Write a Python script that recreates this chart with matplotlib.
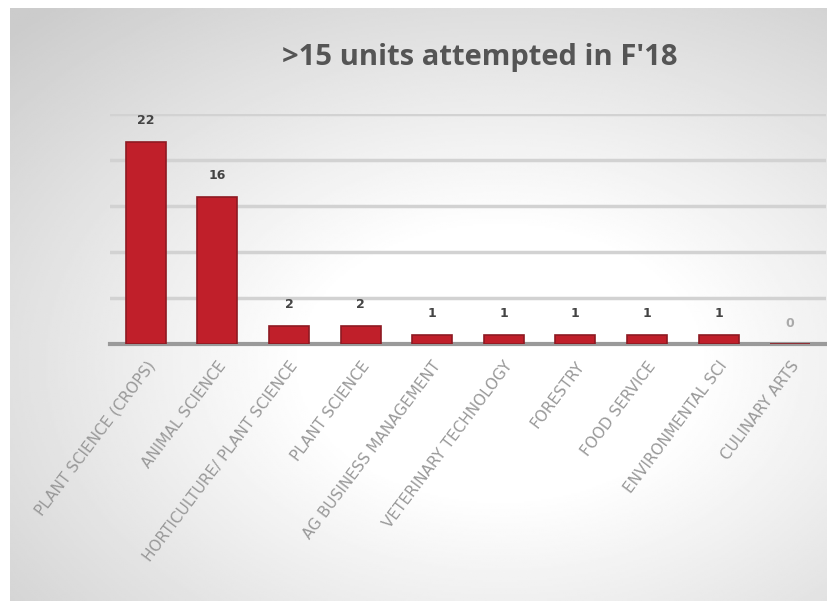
import numpy as np
import matplotlib.pyplot as plt


categories = [
    "PLANT SCIENCE (CROPS)",
    "ANIMAL SCIENCE",
    "HORTICULTURE/ PLANT SCIENCE",
    "PLANT SCIENCE",
    "AG BUSINESS MANAGEMENT",
    "VETERINARY TECHNOLOGY",
    "FORESTRY",
    "FOOD SERVICE",
    "ENVIRONMENTAL SCI",
    "CULINARY ARTS",
]
students = [22, 16, 2, 2, 1, 1, 1, 1, 1, 0]
y_ticks = [0, 5, 10, 15, 20, 25]

title = ">15 units attempted in F'18"

fig = plt.figure(figsize=(8.28, 6.01), dpi=100)
fig.patch.set_facecolor("white")

# soft radial grey background like the slide
bg = fig.add_axes([10 / 828, 0, 1 - 10 / 828, 593 / 601], zorder=0)
yy, xx = np.mgrid[0:1:300j, 0:1:400j]
dist = np.sqrt(((xx - 0.6) / 0.9) ** 2 + ((yy - 0.6) / 0.85) ** 2)
shade = np.clip(1.08 - 0.3 * dist, 0.8, 1.0)
bg.imshow(shade, cmap="gray", vmin=0, vmax=1, aspect="auto",
          extent=[0, 1, 0, 1], origin="upper")
bg.axis("off")

ax = fig.add_axes([110 / 828, 257 / 601, 716 / 828, 230 / 601], zorder=1)
ax.patch.set_alpha(0)

x = np.arange(len(categories))
ax.bar(x, students, width=0.56, color="#c01f2a",
       edgecolor="#8e1a22", linewidth=1.2, zorder=3)

for xi, v in zip(x, students):
    ax.annotate(
        str(v),
        (xi, v),
        xytext=(0, 15),
        textcoords="offset points",
        ha="center",
        va="center",
        fontsize=9,
        fontweight="bold",
        color="#444444" if v > 0 else "#aaaaaa",
    )

ax.set_xlim(-0.5, len(categories) - 0.5)
ax.set_ylim(0, 25)
ax.set_yticks(y_ticks)
ax.yaxis.grid(True, color="#d2d2d2", linewidth=2.5, zorder=0)
ax.tick_params(axis="y", left=False, labelleft=False)
ax.tick_params(axis="x", bottom=False, pad=7)

for side in ["top", "right", "left"]:
    ax.spines[side].set_visible(False)
ax.spines["bottom"].set_color("#9a9a9a")
ax.spines["bottom"].set_linewidth(3)

ax.set_xticks(x)
ax.set_xticklabels(categories, rotation=53, ha="right",
                   rotation_mode="anchor", fontsize=11, color="#999999")

fig.text(0.58, 0.905, title, ha="center", va="center",
         fontsize=21, fontweight="bold", color="#555555",
         family="Open Sans")

plt.savefig("out.png", dpi=100)
plt.close()
